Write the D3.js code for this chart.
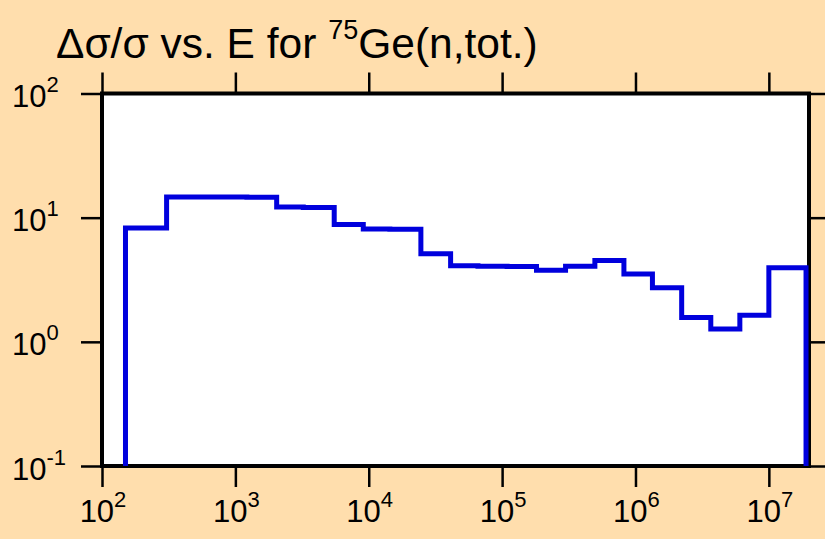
<!DOCTYPE html>
<html>
<head>
<meta charset="utf-8">
<script src="https://cdn.jsdelivr.net/npm/d3@7"></script>
<style>
  html, body { margin: 0; padding: 0; background: #FFDEAD; }
  svg { display: block; }
  text { font-family: "Liberation Sans", Arial, Helvetica, sans-serif; fill: #000; }
</style>
</head>
<body>
<svg id="chart" width="825" height="539"></svg>
<script>
// Group energy boundaries (eV) and relative uncertainty (%) per group
const energyEdges = [150, 305, 1220, 2040, 3230, 5510, 9100, 14400, 24600, 41100,
  65900, 109000, 181000, 299000, 496000, 819000, 1.34e6, 2.22e6, 3.67e6, 6.06e6,
  1.0e7, 1.9e7];
const relUncertainty = [8.27, 14.7, 14.6, 12.2, 12.1, 8.8, 8.1, 8.05, 5.12, 4.1,
  4.07, 4.04, 3.78, 4.07, 4.52, 3.51, 2.73, 1.57, 1.27, 1.64, 3.95];
const xTickExps = [2, 3, 4, 5, 6, 7];
const yTickExps = [-1, 0, 1, 2];

const svg = d3.select("#chart");
const W = 825, H = 539;
const plot = { left: 102, right: 809, top: 93.5, bottom: 466 };

svg.append("rect").attr("width", W).attr("height", H).attr("fill", "#FFDEAD");

const x = d3.scaleLog().domain([1e2, 2e7]).range([plot.left, plot.right]);
const y = d3.scaleLog().domain([0.1, 100]).range([plot.bottom, plot.top]);

// plot frame
svg.append("rect")
  .attr("x", plot.left).attr("y", plot.top)
  .attr("width", plot.right - plot.left).attr("height", plot.bottom - plot.top)
  .attr("fill", "#fff").attr("stroke", "#000").attr("stroke-width", 4);

// tick marks on all four sides, pointing outward
const tickLen = 21;
const axB = d3.axisBottom(x).tickValues(xTickExps.map(e => Math.pow(10, e))).tickSize(tickLen).tickFormat("");
const axT = d3.axisTop(x).tickValues(xTickExps.map(e => Math.pow(10, e))).tickSize(tickLen).tickFormat("");
const axL = d3.axisLeft(y).tickValues(yTickExps.map(e => Math.pow(10, e))).tickSize(tickLen).tickFormat("");
const axR = d3.axisRight(y).tickValues(yTickExps.map(e => Math.pow(10, e))).tickSize(tickLen).tickFormat("");

function styleAxis(g) {
  g.select(".domain").remove();
  g.selectAll(".tick line").attr("stroke", "#000").attr("stroke-width", 2.5);
}
svg.append("g").attr("transform", `translate(0,${plot.bottom})`).call(axB).call(styleAxis);
svg.append("g").attr("transform", `translate(0,${plot.top})`).call(axT).call(styleAxis);
svg.append("g").attr("transform", `translate(${plot.left},0)`).call(axL).call(styleAxis);
svg.append("g").attr("transform", `translate(${plot.right},0)`).call(axR).call(styleAxis);

// power-of-ten tick labels
function powLabel(sel, exp) {
  sel.append("tspan").text("10");
  sel.append("tspan").attr("dy", -15).attr("font-size", 22).text(exp < 0 ? "-" + (-exp) : String(exp));
}
xTickExps.forEach(e => {
  const t = svg.append("text")
    .attr("x", x(Math.pow(10, e)) + 1).attr("y", 522)
    .attr("font-size", 31).attr("text-anchor", "middle");
  powLabel(t, e);
});
yTickExps.forEach(e => {
  const t = svg.append("text")
    .attr("x", 12).attr("y", y(Math.pow(10, e)) + 13.5)
    .attr("font-size", 31).attr("text-anchor", "start");
  powLabel(t, e);
});

// title
const title = svg.append("text").attr("x", 56).attr("y", 58).attr("font-size", 42.5);
title.append("tspan").text("Δσ/σ vs. E for ");
title.append("tspan").attr("dy", -19).attr("font-size", 27).text("75");
title.append("tspan").attr("dy", 19).text("Ge(n,tot.)");

// step histogram of the relative uncertainty
const pts = [[energyEdges[0], 0.1]];
relUncertainty.forEach((v, i) => pts.push([energyEdges[i], v]));
pts.push([energyEdges[energyEdges.length - 1], relUncertainty[relUncertainty.length - 1]]);
pts.push([energyEdges[energyEdges.length - 1], 0.1]);

const line = d3.line().x(d => x(d[0])).y(d => y(d[1])).curve(d3.curveStepAfter);
svg.append("path")
  .datum(pts)
  .attr("d", line)
  .attr("fill", "none")
  .attr("stroke", "#0000DD")
  .attr("stroke-width", 5)
  .attr("stroke-linejoin", "miter");
</script>
</body>
</html>
